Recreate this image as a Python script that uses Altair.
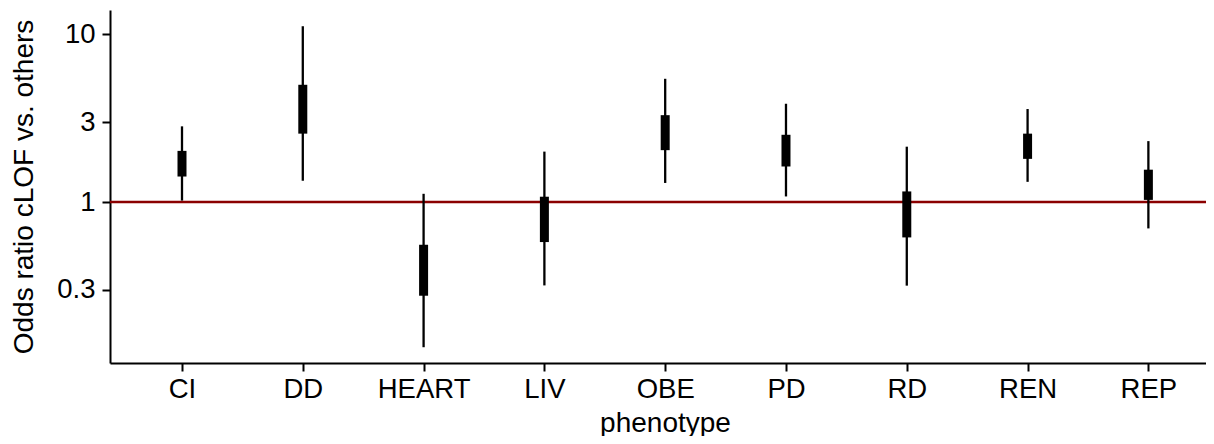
import altair as alt
import pandas as pd

phenotypes = ["CI", "DD", "HEART", "LIV", "OBE", "PD", "RD", "REN", "REP"]
ci_low = [1.02, 1.34, 0.136, 0.318, 1.30, 1.08, 0.317, 1.32, 0.696]
ci_high = [2.83, 11.2, 1.12, 2.00, 5.44, 3.86, 2.14, 3.59, 2.31]
box_low = [1.42, 2.56, 0.276, 0.577, 2.04, 1.63, 0.615, 1.81, 1.03]
box_high = [2.02, 5.01, 0.556, 1.076, 3.30, 2.52, 1.157, 2.56, 1.56]
y_ticks = [0.3, 1, 3, 10]
ref_value = [1]

df = pd.DataFrame({
    "idx": list(range(len(phenotypes))),
    "phenotype": phenotypes,
    "ci_low": ci_low,
    "ci_high": ci_high,
    "box_low": box_low,
    "box_high": box_high,
})
ref_df = pd.DataFrame({"ref": ref_value})

FONT = "Liberation Sans"
label_expr = "[" + ",".join(f"'{p}'" for p in phenotypes) + "][datum.value]"

x_enc = alt.X(
    "idx:Q",
    scale=alt.Scale(domain=[-0.596, 8.477], nice=False, zero=False),
    axis=alt.Axis(
        values=list(range(len(phenotypes))),
        labelExpr=label_expr,
        title="phenotype",
        titleX=555,
        titleY=68,
        titleBaseline="alphabetic",
        grid=False,
        tickSize=8,
        labelPadding=4,
    ),
)
y_scale = alt.Scale(type="log", domain=[0.1095, 14.0], nice=False)
y_axis = alt.Axis(
    values=y_ticks,
    format="~g",
    title="Odds ratio cLOF vs. others",
    titleX=-78,
    titleBaseline="alphabetic",
    grid=False,
    tickSize=8,
    labelPadding=7,
)

rule = alt.Chart(ref_df).mark_rule(color="#8B0000", strokeWidth=2.5).encode(
    y=alt.Y("ref:Q", scale=y_scale, axis=y_axis)
)

whisk = alt.Chart(df).mark_rule(color="black", strokeWidth=2.3).encode(
    x=x_enc,
    y=alt.Y("ci_low:Q", scale=y_scale, axis=y_axis),
    y2="ci_high:Q",
)

box = alt.Chart(df).mark_rule(color="black", strokeWidth=9).encode(
    x=alt.X("idx:Q"),
    y=alt.Y("box_low:Q"),
    y2="box_high:Q",
)

chart = (
    alt.layer(rule, whisk, box)
    .properties(
        width=1096,
        height=353,
        autosize=alt.AutoSizeParams(type="none"),
        padding={"left": 102, "top": 2, "right": 0, "bottom": 73},
    )
    .configure_view(stroke=None)
    .configure_axis(
        domainColor="black",
        domainWidth=2,
        tickColor="black",
        tickWidth=2,
        labelColor="black",
        labelFont=FONT,
        labelFontSize=27.5,
        titleFont=FONT,
        titleFontSize=28,
        titleFontWeight="normal",
        titleColor="black",
    )
)

chart.save("out.html", embed_options={"renderer": "svg", "actions": False})
